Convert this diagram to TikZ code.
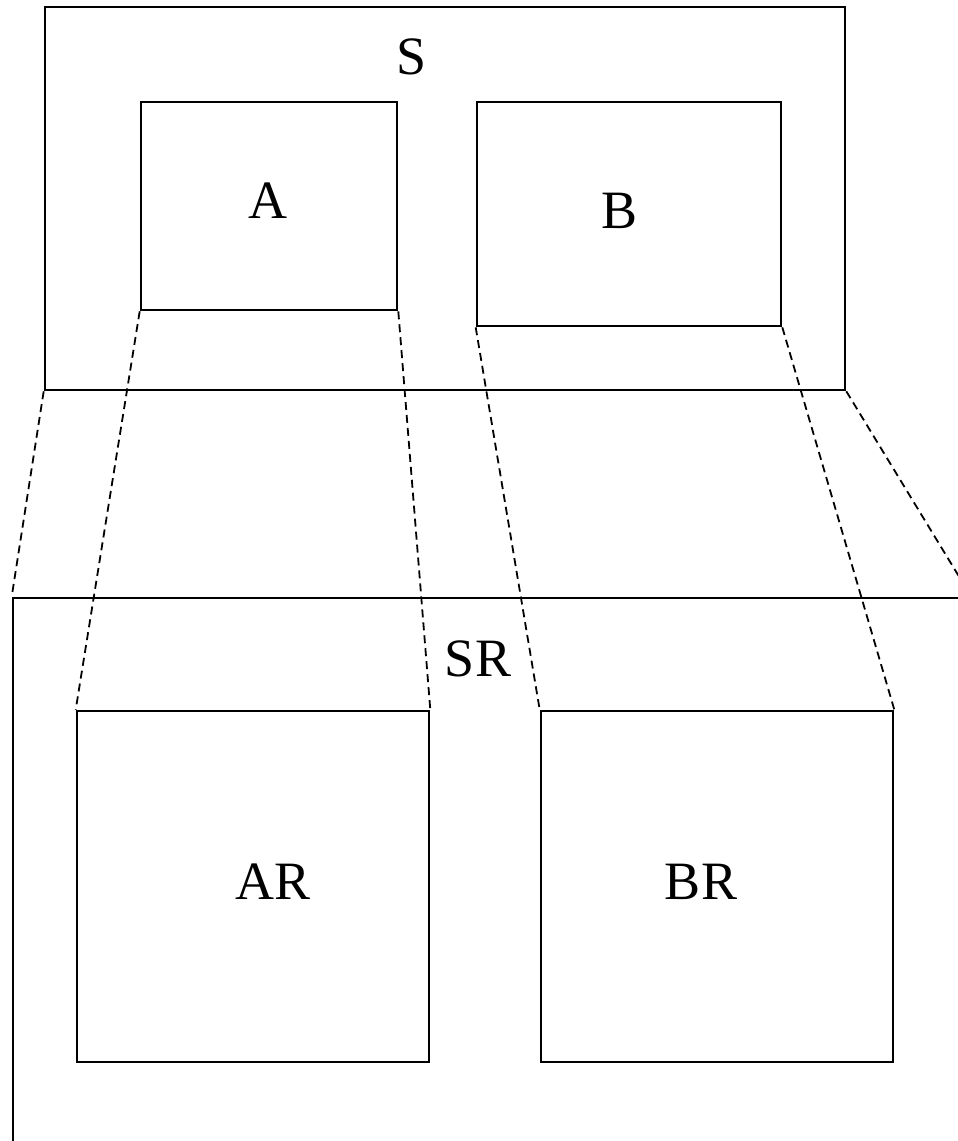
\documentclass[tikz,border=0pt]{standalone}
\usepackage{fontspec}
\setmainfont{Liberation Serif}
\begin{document}
\begin{tikzpicture}[x=1pt,y=-1pt,
  boxstyle/.style={draw,line width=2.6pt,rectangle,inner sep=0pt},
  lbl/.style={inner sep=0pt,font=\fontsize{54}{60}\selectfont},
  proj/.style={line width=1.8pt,dash pattern=on 8pt off 5pt}]
\useasboundingbox (0,0) rectangle (958,1141);
\clip (0,0) rectangle (958,1141);
\node[boxstyle,minimum width=800pt,minimum height=383pt] (S) at (445,198.5) {};
\node[boxstyle,minimum width=256pt,minimum height=208pt] (A) at (269,206) {};
\node[boxstyle,minimum width=304pt,minimum height=224pt] (B) at (629,214) {};
\node[boxstyle,minimum width=957pt,minimum height=700pt] (SR) at (491.5,948) {};
\node[boxstyle,minimum width=352pt,minimum height=351pt] (AR) at (253,886.5) {};
\node[boxstyle,minimum width=352pt,minimum height=351pt] (BR) at (717,886.5) {};
\node[lbl] (Sl) at (412,57) {S};
\node[lbl] (Al) at (268,201) {A};
\node[lbl] (Bl) at (620,211) {B};
\node[lbl] (SRl) at (478,659) {SR};
\node[lbl] (ARl) at (273,882) {AR};
\node[lbl] (BRl) at (701,882) {BR};
\draw[proj] (S.south west) -- (SR.north west);
\draw[proj] (S.south east) -- (SR.north east);
\draw[proj] (A.south west) -- (AR.north west);
\draw[proj] (A.south east) -- (AR.north east);
\draw[proj] (B.south west) -- (BR.north west);
\draw[proj] (B.south east) -- (BR.north east);
\end{tikzpicture}
\end{document}
